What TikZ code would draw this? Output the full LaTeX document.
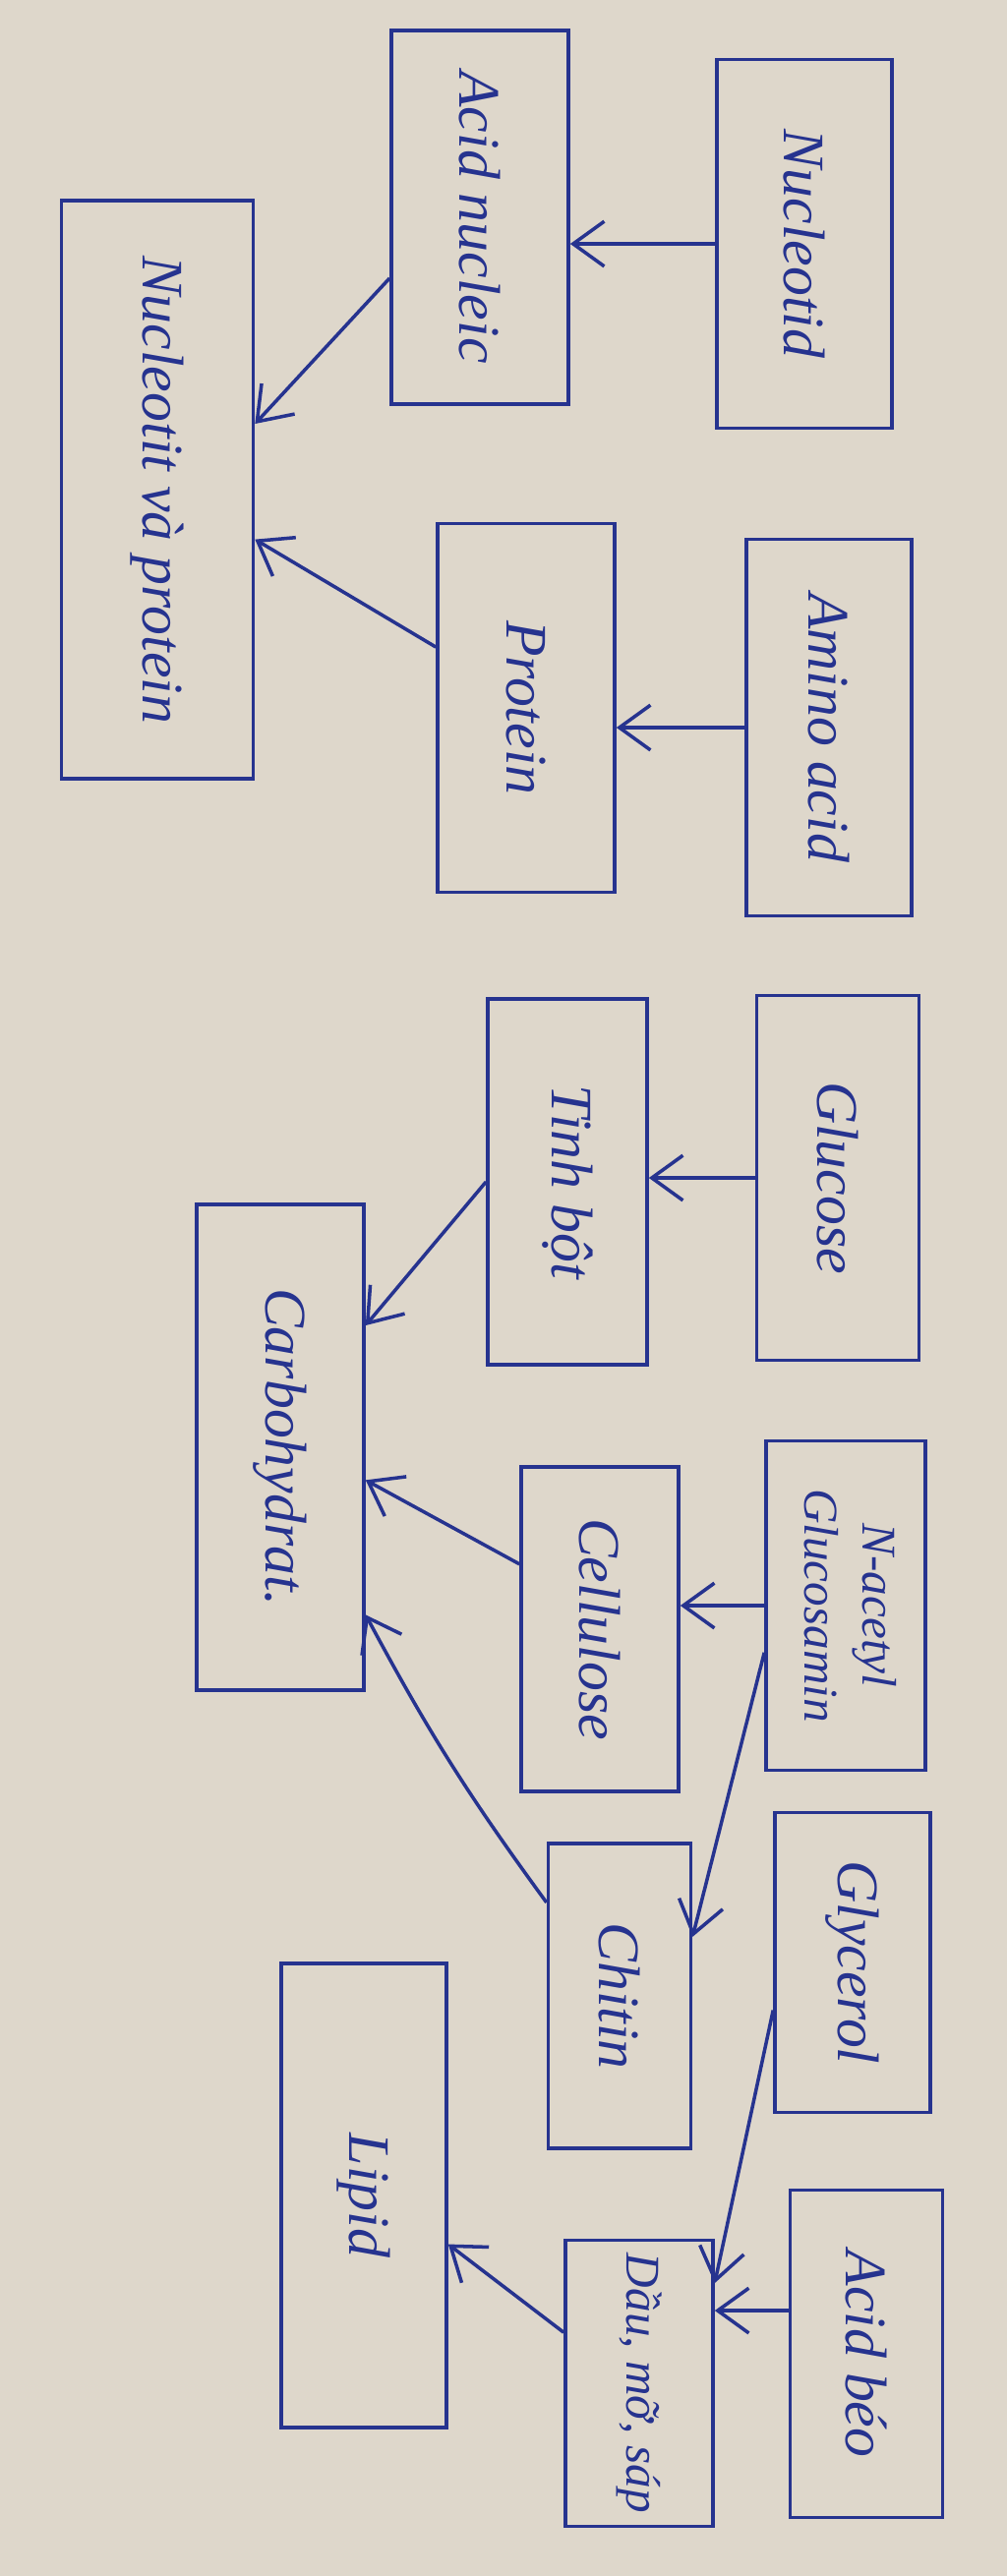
\documentclass[tikz,border=0pt]{standalone}
\usepackage{xcolor}
\usepackage{graphicx}
\usepackage{fontspec}
\setmainfont{Liberation Serif}
\usepackage{tikz}
\usetikzlibrary{arrows.meta}
\definecolor{mucXanh}{HTML}{26338F}
\definecolor{giayBe}{HTML}{DED7CB}
\newcommand{\chuDoc}[1]{\rotatebox{-90}{#1}}

\begin{document}
\begin{tikzpicture}[x=0.01cm,y=-0.01cm,
  hop/.style={draw=mucXanh,line width=1pt,text=mucXanh,inner sep=0pt,font=\itshape\fontsize{17}{21}\selectfont},
  hopNho/.style={hop,font=\itshape\fontsize{14}{17}\selectfont},
  muiTen/.style={draw=mucXanh,line width=1pt,-{Straight Barb[length=9pt,width=13pt]}}]
\fill[giayBe] (0,0) rectangle (1024,2620);
\node[hop,minimum width=1.78cm,minimum height=3.75cm] (nucleotid) at (818,248) {\chuDoc{Nucleotid}};
\node[hop,minimum width=1.80cm,minimum height=3.80cm] (acidNucleic) at (488,221) {\chuDoc{Acid nucleic}};
\node[hop,minimum width=1.95cm,minimum height=5.88cm] (nvp) at (160,498) {\chuDoc{Nucleotit và protein}};
\node[hop,minimum width=1.68cm,minimum height=3.83cm] (aminoAcid) at (843,740) {\chuDoc{Amino acid}};
\node[hop,minimum width=1.80cm,minimum height=3.75cm] (protein) at (535,720) {\chuDoc{Protein}};
\node[hop,minimum width=1.65cm,minimum height=3.71cm] (glucose) at (852,1198) {\chuDoc{Glucose}};
\node[hop,minimum width=1.62cm,minimum height=3.72cm] (tinhBot) at (577,1202) {\chuDoc{Tinh bột}};
\node[hop,minimum width=1.70cm,minimum height=4.94cm] (carbohydrat) at (285,1472) {\chuDoc{Carbohydrat.}};
\node[hopNho,minimum width=1.62cm,minimum height=3.35cm] (nAcetyl) at (860,1633) {\chuDoc{\begin{tabular}{@{}c@{}}N-acetyl\\Glucosamin\end{tabular}}};
\node[hop,minimum width=1.60cm,minimum height=3.30cm] (cellulose) at (610,1657) {\chuDoc{Cellulose}};
\node[hop,minimum width=1.45cm,minimum height=3.10cm] (chitin) at (630,2030) {\chuDoc{Chitin}};
\node[hop,minimum width=1.58cm,minimum height=3.05cm] (glycerol) at (867,1996) {\chuDoc{Glycerol}};
\node[hop,minimum width=1.68cm,minimum height=4.72cm] (lipid) at (370,2233) {\chuDoc{Lipid}};
\node[hop,minimum width=1.55cm,minimum height=3.33cm] (acidBeo) at (881,2394) {\chuDoc{Acid béo}};
\node[hopNho,minimum width=1.50cm,minimum height=2.91cm] (dauMoSap) at (650,2424) {\chuDoc{Dầu, mỡ, sáp}};
\draw[muiTen] (nucleotid.west) -- (nucleotid.west -| acidNucleic.east);
\draw[muiTen] (acidNucleic.214) -- (nvp.34);
\draw[muiTen] (protein.146) -- (nvp.333);
\draw[muiTen] (aminoAcid.west) -- (aminoAcid.west -| protein.east);
\draw[muiTen] (glucose.west) -- (glucose.west -| tinhBot.east);
\draw[muiTen] (tinhBot.west) -- (carbohydrat.55);
\draw[muiTen] (nAcetyl.west) -- (nAcetyl.west -| cellulose.east);
\draw[muiTen] (cellulose.141) -- (carbohydrat.339);
\draw[muiTen] (nAcetyl.210) -- (chitin.39);
\draw[muiTen] (chitin.128) to[bend left=4] (carbohydrat.297);
\draw[muiTen] (glycerol.211) -- (dauMoSap.53);
\draw[muiTen] (acidBeo.151) -- (acidBeo.151 -| dauMoSap.east);
\draw[muiTen] (dauMoSap.146) -- (lipid.330);
\end{tikzpicture}
\end{document}
